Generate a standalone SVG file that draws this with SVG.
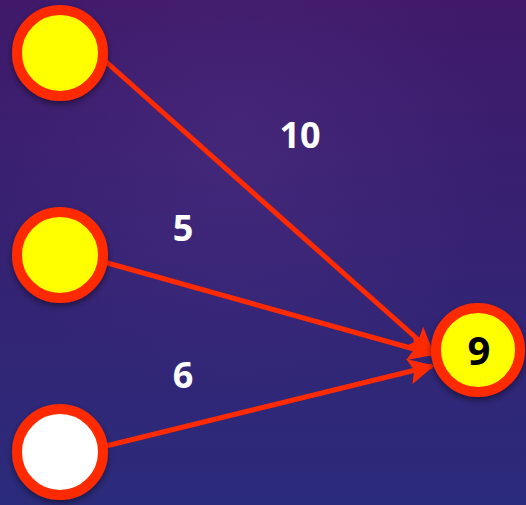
<svg xmlns="http://www.w3.org/2000/svg" width="526" height="505" viewBox="0 0 526 505">
<defs>
<linearGradient id="bg" x1="0" y1="0" x2="0" y2="1">
<stop offset="0" stop-color="#40196a"/>
<stop offset="1" stop-color="#2b2b7b"/>
</linearGradient>
<radialGradient id="glow" cx="0.45" cy="0.3" r="0.5">
<stop offset="0" stop-color="#5a3a8f" stop-opacity="0.3"/>
<stop offset="1" stop-color="#5a3a8f" stop-opacity="0"/>
</radialGradient>
<filter id="sh" x="-30%" y="-30%" width="160%" height="160%">
<feDropShadow dx="0" dy="3" stdDeviation="3" flood-color="#000" flood-opacity="0.45"/>
</filter>
<marker id="arr" viewBox="0 0 10 10" refX="9" refY="5" markerWidth="5.2" markerHeight="5.2" markerUnits="strokeWidth" orient="auto">
<path d="M0,0 L10,5 L0,10 L2,5 z" fill="#ff2a00"/>
</marker>
<style>
.node{stroke:#ff2a00;stroke-width:10;filter:url(#sh)}
.edge{stroke:#ff2a00;stroke-width:5;fill:none;marker-end:url(#arr)}
.lbl{font-family:"Open Sans","Liberation Sans",sans-serif;font-weight:bold;font-size:36px;fill:#fff;text-anchor:middle}
.val{font-family:"Open Sans","Liberation Sans",sans-serif;font-weight:bold;font-size:40px;fill:#000;text-anchor:middle}
</style>
</defs>
<rect width="526" height="505" fill="url(#bg)"/>
<rect width="526" height="505" fill="url(#glow)"/>
<g id="connectors">
<line class="edge" x1="104" y1="60" x2="432" y2="352"/>
<line class="edge" x1="104" y1="262" x2="432" y2="354"/>
<line class="edge" x1="106" y1="446" x2="432" y2="366"/>
</g>
<g id="labels">
<text class="lbl" x="300" y="148">10</text>
<text class="lbl" x="183" y="241">5</text>
<text class="lbl" x="183" y="388">6</text>
</g>
<g id="n1"><circle class="node" cx="60" cy="53" r="43" fill="#ffff00"/></g>
<g id="n2"><circle class="node" cx="60" cy="255" r="43" fill="#ffff00"/></g>
<g id="n3"><circle class="node" cx="60" cy="452" r="43" fill="#ffffff"/></g>
<g id="n4"><circle class="node" cx="478" cy="350" r="42" fill="#ffff00"/><text class="val" x="479" y="365">9</text></g>
</svg>
